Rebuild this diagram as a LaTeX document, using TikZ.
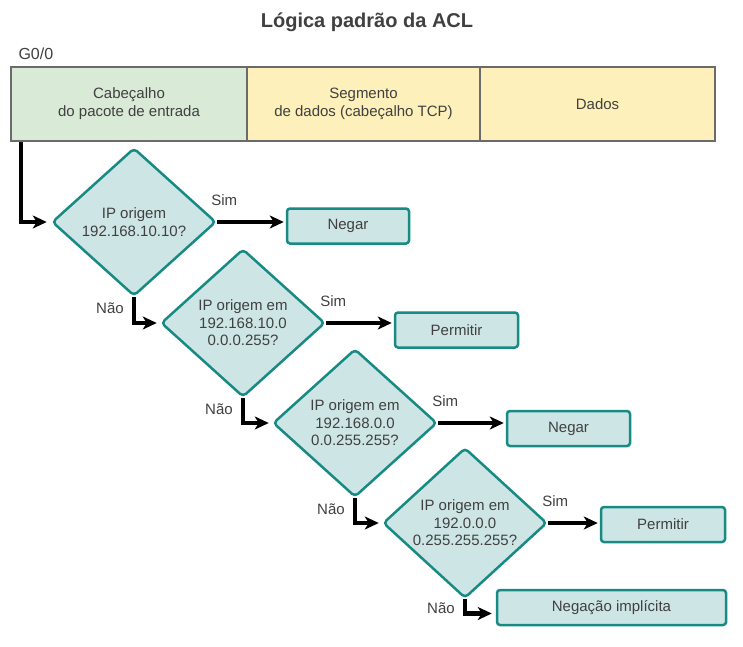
\documentclass[tikz,border=0pt]{standalone}
\usepackage{fontspec}
\setmainfont{Liberation Sans}
\usetikzlibrary{shapes.geometric,arrows.meta}
\definecolor{txtgray}{HTML}{404040}
\definecolor{cellgray}{HTML}{6B6B6B}
\definecolor{cellgreen}{HTML}{D9EAD7}
\definecolor{cellyellow}{HTML}{FDF0BA}
\definecolor{tealline}{HTML}{178A84}
\definecolor{tealfill}{HTML}{CDE6E5}

\begin{document}
\begin{tikzpicture}[x=1pt, y=-1pt, font=\fontsize{15}{17.5}\selectfont, text=txtgray,
  cell/.style = {draw=cellgray, line width=2.5pt, minimum height=74pt, inner sep=0pt, align=center, font=\fontsize{15}{18}\selectfont},
  test/.style = {diamond, draw=tealline, fill=tealfill, line width=2.5pt, rounded corners=4pt, minimum width=164pt, minimum height=148pt, inner sep=0pt, align=center},
  result/.style = {draw=tealline, fill=tealfill, line width=2.5pt, rounded corners=3pt, minimum height=35pt, inner sep=0pt},
  flow/.style = {line width=4.2pt, -{Stealth[length=14pt,width=13pt,inset=4pt]}}]
	\useasboundingbox (0,0) rectangle (743,646);
	\node[font=\fontsize{20}{24}\selectfont\bfseries] (title) at (367,22) {Lógica padrão da ACL};
	\node[anchor=west, font=\fontsize{16}{19}\selectfont] (port) at (15,54) {G0/0};
	\node[cell, fill=cellgreen, minimum width=236pt] (hdr1) at (129,104) {Cabeçalho\\do pacote de entrada};
	\node[cell, fill=cellyellow, minimum width=233pt] (hdr2) at (363.5,104) {Segmento\\de dados (cabeçalho TCP)};
	\node[cell, fill=cellyellow, minimum width=235pt] (hdr3) at (597.5,104) {Dados};
	\node[test] (d1) at (134,222) {IP origem\\192.168.10.10?};
	\node[test] (d2) at (243,323) {IP origem em\\192.168.10.0\\0.0.0.255?};
	\node[test] (d3) at (355,423) {IP origem em\\192.168.0.0\\0.0.255.255?};
	\node[test] (d4) at (465,523) {IP origem em\\192.0.0.0\\0.255.255.255?};
	\node[result, minimum width=122pt] (deny1) at (348,226) {Negar};
	\node[result, minimum width=123pt] (permit1) at (456.5,330) {Permitir};
	\node[result, minimum width=123pt] (deny2) at (568.5,428.5) {Negar};
	\node[result, minimum width=124pt] (permit2) at (663,524.5) {Permitir};
	\node[result, minimum width=229pt] (implicit) at (611.5,607.5) {Negação implícita};
	\draw[flow, shorten >=4pt] ([xshift=11pt]hdr1.south west) |- (d1.west);
	\draw[flow, shorten >=2pt] (d1.east) -- (d1.east -| deny1.west);
	\draw[flow, shorten >=2pt] (d2.east) -- (d2.east -| permit1.west);
	\draw[flow, shorten >=2pt] (d3.east) -- (d3.east -| deny2.west);
	\draw[flow, shorten >=2pt] (d4.east) -- (d4.east -| permit2.west);
	\draw[flow, shorten >=3pt] (d1.south) |- (d2.west);
	\draw[flow, shorten >=3pt] (d2.south) |- (d3.west);
	\draw[flow, shorten >=3pt] (d3.south) |- (d4.west);
	\draw[flow, shorten >=4pt] (d4.south) |- ([yshift=-6pt]implicit.west);
	\node (yes1) at ([xshift=7pt,yshift=22pt]d1.east) {Sim};
	\node (yes2) at ([xshift=7pt,yshift=22pt]d2.east) {Sim};
	\node (yes3) at ([xshift=7pt,yshift=22pt]d3.east) {Sim};
	\node (yes4) at ([xshift=7pt,yshift=22pt]d4.east) {Sim};
	\node (no1) at ([xshift=-24pt,yshift=-11pt]d1.south) {Não};
	\node (no2) at ([xshift=-24pt,yshift=-11pt]d2.south) {Não};
	\node (no3) at ([xshift=-24pt,yshift=-11pt]d3.south) {Não};
	\node (no4) at ([xshift=-24pt,yshift=-9pt]d4.south) {Não};
\end{tikzpicture}
\end{document}
